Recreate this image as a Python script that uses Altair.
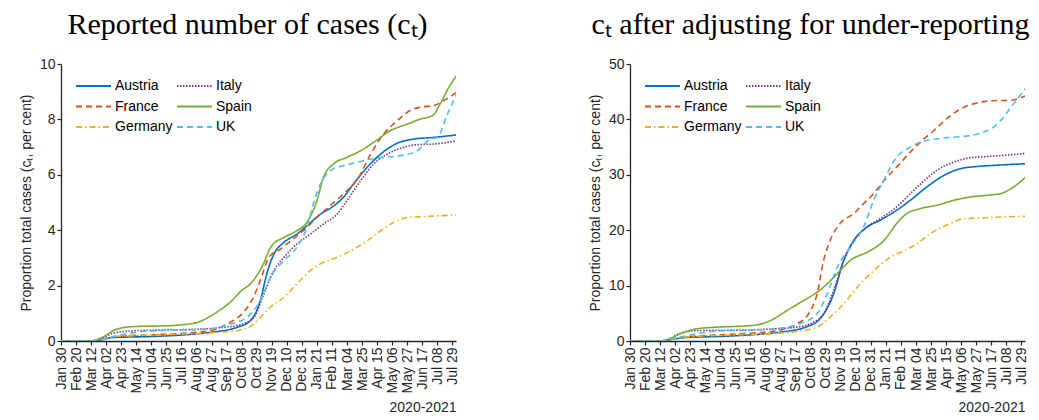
import altair as alt
import pandas as pd

# ---------------- data ----------------
start_date = "2020-01-30"
end_date = "2021-08-03"

tick_dates = [
    "2020-01-30", "2020-02-20", "2020-03-12", "2020-04-02", "2020-04-23", "2020-05-14",
    "2020-06-04", "2020-06-25", "2020-07-16", "2020-08-06", "2020-08-27", "2020-09-17",
    "2020-10-08", "2020-10-29", "2020-11-19", "2020-12-10", "2020-12-31", "2021-01-21",
    "2021-02-11", "2021-03-04", "2021-03-25", "2021-04-15", "2021-05-06", "2021-05-27",
    "2021-06-17", "2021-07-08", "2021-07-29",
]

legend_order = ["Austria", "France", "Germany", "Italy", "Spain", "UK"]
line_colors = ["#0072BD", "#D95319", "#EDB120", "#7E2F8E", "#77AC30", "#4DBEEE"]
line_dashes = [[1, 0], [6, 4], [6, 3, 1.5, 3], [1.5, 1.5], [1, 0], [6, 4]]

# Reported cases (per cent), days since 2020-01-30
austria_rep_days = [0, 45, 58, 65, 78, 124, 171, 208, 245, 264, 278, 287, 297, 311, 329, 343, 362, 378, 394, 408, 427, 446, 469, 492, 520, 552]
austria_rep_vals = [0, 0, 0.05, 0.1, 0.13, 0.16, 0.22, 0.31, 0.49, 0.73, 1.46, 2.42, 3.14, 3.56, 3.86, 4.16, 4.58, 4.83, 5.19, 5.67, 6.27, 6.75, 7.14, 7.29, 7.35, 7.44]

france_rep_days = [0, 42, 60, 78, 124, 171, 208, 231, 252, 266, 278, 290, 306, 324, 343, 357, 373, 394, 415, 432, 450, 469, 487, 501, 520, 534, 552]
france_rep_vals = [0, 0, 0.08, 0.16, 0.22, 0.28, 0.37, 0.61, 0.97, 1.46, 2.18, 3.02, 3.32, 3.68, 4.1, 4.46, 4.83, 5.31, 5.9, 6.75, 7.47, 7.95, 8.32, 8.44, 8.5, 8.68, 8.98]

germany_rep_days = [0, 42, 60, 78, 124, 171, 217, 250, 264, 278, 292, 311, 329, 348, 366, 385, 404, 427, 446, 464, 483, 511, 552]
germany_rep_vals = [0, 0, 0.08, 0.17, 0.22, 0.25, 0.31, 0.40, 0.52, 0.85, 1.22, 1.58, 2.06, 2.54, 2.84, 3.02, 3.26, 3.62, 3.98, 4.28, 4.46, 4.50, 4.55]

italy_rep_days = [0, 42, 55, 73, 101, 148, 185, 217, 250, 269, 283, 297, 311, 329, 348, 366, 385, 399, 418, 436, 460, 478, 497, 520, 552]
italy_rep_vals = [0, 0, 0.08, 0.28, 0.37, 0.40, 0.42, 0.47, 0.59, 0.85, 1.70, 2.54, 3.02, 3.50, 3.86, 4.22, 4.58, 5.07, 5.79, 6.39, 6.81, 6.99, 7.09, 7.11, 7.23]

spain_rep_days = [0, 42, 55, 78, 101, 148, 171, 190, 213, 236, 252, 264, 280, 294, 311, 329, 341, 357, 366, 380, 399, 418, 436, 460, 483, 501, 518, 529, 541, 552]
spain_rep_vals = [0, 0, 0.1, 0.43, 0.52, 0.55, 0.59, 0.67, 0.97, 1.40, 1.82, 2.06, 2.66, 3.44, 3.74, 3.98, 4.22, 5.07, 5.90, 6.39, 6.63, 6.87, 7.17, 7.60, 7.83, 8.01, 8.13, 8.56, 9.16, 9.58]

uk_rep_days = [0, 42, 55, 78, 115, 171, 208, 236, 259, 278, 292, 311, 329, 343, 352, 362, 376, 394, 413, 432, 450, 473, 497, 515, 525, 539, 552]
uk_rep_vals = [0, 0, 0.05, 0.19, 0.35, 0.40, 0.43, 0.61, 0.85, 1.46, 2.30, 2.90, 3.38, 4.10, 4.95, 5.67, 6.15, 6.33, 6.45, 6.57, 6.63, 6.69, 6.87, 7.29, 7.35, 8.19, 8.92]

# Adjusted for under-reporting (per cent)
austria_adj_days = [0, 45, 58, 75, 121, 168, 210, 247, 265, 284, 298, 312, 331, 349, 372, 391, 414, 438, 461, 484, 507, 553]
austria_adj_vals = [0, 0, 0.3, 0.6, 0.8, 1.1, 1.6, 2.6, 4.0, 8.5, 14.5, 18.1, 20.6, 21.8, 23.6, 25.4, 27.8, 29.9, 31.1, 31.5, 31.7, 32.0]

france_adj_days = [0, 42, 58, 75, 121, 168, 210, 233, 249, 261, 270, 279, 293, 312, 326, 340, 354, 372, 391, 405, 424, 447, 466, 489, 512, 526, 553]
france_adj_vals = [0, 0, 0.3, 0.7, 1.1, 1.4, 2.0, 3.1, 4.9, 8.5, 14.5, 18.1, 21.2, 23.0, 24.8, 26.6, 28.9, 31.4, 34.1, 35.9, 38.0, 40.7, 42.2, 43.1, 43.4, 43.4, 44.3]

germany_adj_days = [0, 42, 58, 75, 121, 168, 205, 242, 261, 279, 298, 317, 340, 363, 382, 400, 419, 447, 466, 493, 521, 553]
germany_adj_vals = [0, 0, 0.3, 0.7, 1.0, 1.2, 1.4, 1.9, 2.5, 4.3, 6.7, 9.7, 12.7, 15.1, 16.3, 17.5, 19.4, 21.2, 22.1, 22.2, 22.4, 22.5]

italy_adj_days = [0, 42, 55, 70, 98, 168, 200, 233, 256, 270, 284, 298, 312, 331, 349, 372, 391, 410, 428, 452, 475, 498, 521, 553]
italy_adj_vals = [0, 0, 0.4, 1.4, 1.9, 2.0, 2.2, 2.5, 3.4, 4.9, 9.1, 14.5, 18.1, 20.6, 22.1, 24.2, 26.6, 28.9, 30.8, 32.3, 33.1, 33.3, 33.5, 33.9]

spain_adj_days = [0, 42, 55, 70, 93, 121, 158, 177, 196, 219, 242, 261, 275, 293, 307, 335, 354, 372, 386, 405, 428, 452, 475, 498, 517, 535, 553]
spain_adj_vals = [0, 0, 0.4, 1.3, 2.2, 2.5, 2.7, 2.9, 3.7, 5.5, 7.3, 8.8, 10.3, 12.7, 14.5, 16.3, 18.1, 21.2, 23.0, 23.9, 24.5, 25.4, 26.0, 26.3, 26.6, 27.8, 29.7]

uk_adj_days = [0, 42, 55, 70, 121, 177, 214, 242, 261, 275, 289, 307, 326, 340, 354, 372, 391, 410, 428, 452, 475, 493, 507, 521, 535, 553]
uk_adj_vals = [0, 0, 0.3, 0.7, 1.8, 2.0, 2.4, 3.4, 4.9, 8.5, 13.3, 16.9, 20.6, 25.4, 29.0, 33.2, 35.0, 36.1, 36.5, 36.8, 37.1, 37.7, 38.6, 40.4, 42.8, 45.8]

reported_series = {
    "Austria": (austria_rep_days, austria_rep_vals),
    "France": (france_rep_days, france_rep_vals),
    "Germany": (germany_rep_days, germany_rep_vals),
    "Italy": (italy_rep_days, italy_rep_vals),
    "Spain": (spain_rep_days, spain_rep_vals),
    "UK": (uk_rep_days, uk_rep_vals),
}
adjusted_series = {
    "Austria": (austria_adj_days, austria_adj_vals),
    "France": (france_adj_days, france_adj_vals),
    "Germany": (germany_adj_days, germany_adj_vals),
    "Italy": (italy_adj_days, italy_adj_vals),
    "Spain": (spain_adj_days, spain_adj_vals),
    "UK": (uk_adj_days, uk_adj_vals),
}


def to_frame(series):
    rows = []
    base = pd.Timestamp(start_date)
    for name, (days, vals) in series.items():
        for d, v in zip(days, vals):
            rows.append({
                "country": name,
                "date": (base + pd.Timedelta(days=d)).strftime("%Y-%m-%dT00:00:00Z"),
                "value": v,
            })
    return pd.DataFrame(rows)


def ms(d):
    return int(pd.Timestamp(d, tz="UTC").value // 10**6)


tick_ms = [ms(d) for d in tick_dates]
x_domain = [ms(start_date), ms(end_date)]

AXIS_COLOR = "#262626"
SANS = "Liberation Sans"


def legend_spec():
    # long horizontal line symbol (35px) with a compact row height
    return alt.Legend(
        title=None, orient="none", legendX=14, legendY=14, columns=2,
        symbolType="M-1,0H4", symbolSize=196, symbolStrokeWidth=2,
        labelFont=SANS, labelFontSize=14, labelColor="#000000", labelOffset=24,
        columnPadding=0, rowPadding=5.5, padding=0,
    )


def panel(df, ymax, yticks, title_text, title_dx):
    return alt.Chart(df).mark_line(interpolate="monotone", strokeWidth=1.6, clip=True).encode(
        x=alt.X(
            "date:T",
            scale=alt.Scale(type="utc", domain=x_domain, nice=False),
            axis=alt.Axis(
                values=tick_ms, labelExpr="utcFormat(datum.value, '%b %d')",
                labelAngle=270, labelFontSize=14, labelPadding=2, tickSize=4,
                title="2020-2021", titleAnchor="end", titleFontSize=14,
                titleFontWeight="normal", titlePadding=8, grid=False,
                labelOverlap=False, labelFlush=False,
            ),
        ),
        y=alt.Y(
            "value:Q",
            scale=alt.Scale(domain=[0, ymax], nice=False),
            axis=alt.Axis(
                values=yticks, labelFontSize=14, tickSize=4, labelPadding=2,
                title="Proportion total cases (cₜ, per cent)", titleFontSize=14,
                titleFontWeight="normal", titlePadding=6, grid=False,
            ),
        ),
        color=alt.Color(
            "country:N",
            scale=alt.Scale(domain=legend_order, range=line_colors),
            legend=legend_spec(),
        ),
        strokeDash=alt.StrokeDash(
            "country:N",
            scale=alt.Scale(domain=legend_order, range=line_dashes),
            legend=legend_spec(),
        ),
    ).properties(
        width=395, height=277,
        title=alt.TitleParams(
            title_text, font="Liberation Serif", fontSize=30, fontWeight="normal",
            color="#000000", anchor="middle", frame="group", offset=17, dx=title_dx,
        ),
    )


left = panel(to_frame(reported_series), 10, [0, 2, 4, 6, 8, 10],
             "Reported number of cases (cₜ)", -11)
right = panel(to_frame(adjusted_series), 50, [0, 10, 20, 30, 40, 50],
              "cₜ after adjusting for under-reporting", -17)

chart = alt.hconcat(left, right, spacing=128).resolve_scale(
    color="independent", strokeDash="independent", x="independent", y="independent"
).resolve_legend(
    color="independent", strokeDash="independent"
).properties(
    padding={"left": 11, "top": 2, "right": 0, "bottom": 0},
    background="white",
).configure_view(
    stroke=None
).configure_axis(
    domainColor=AXIS_COLOR, domainWidth=1.3, tickColor=AXIS_COLOR, tickWidth=1.2,
    labelColor=AXIS_COLOR, titleColor=AXIS_COLOR, labelFont=SANS, titleFont=SANS,
)

chart.save("out.html", embed_options={"renderer": "svg", "actions": False})
